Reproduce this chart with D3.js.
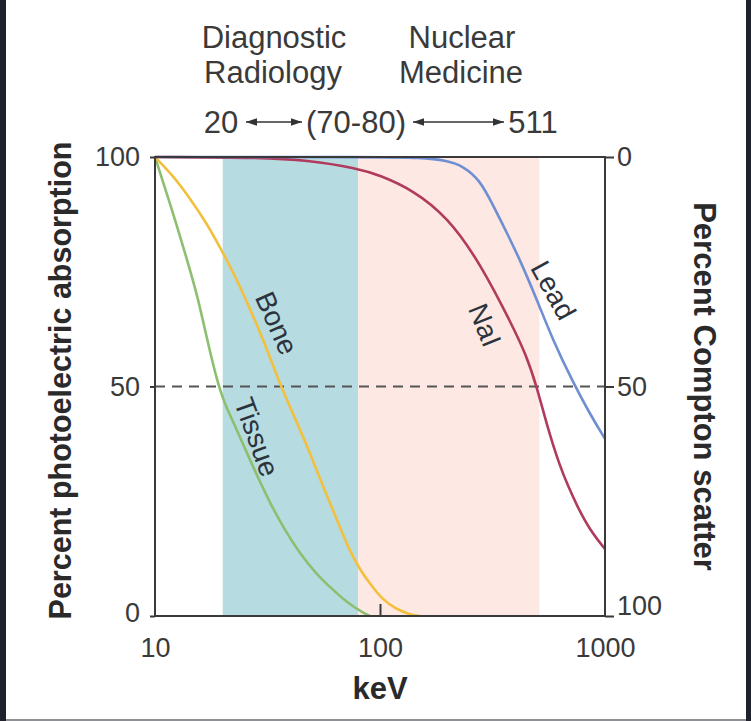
<!DOCTYPE html>
<html>
<head>
<meta charset="utf-8">
<script src="https://cdn.jsdelivr.net/npm/d3@7"></script>
<style>
  html, body { margin: 0; padding: 0; background: #1f222b; }
  svg { display: block; font-family: "Liberation Sans", Arial, sans-serif; }
</style>
</head>
<body>
<div id="chart"></div>
<script>
// Energy (keV) and percent photoelectric absorption
const tissueKeV = [10, 12, 14, 15.4, 17, 18.9, 20.5, 22.2, 26.4, 32.4, 38, 44, 52, 61.8, 72, 84, 90];
const tissuePct = [100, 88, 77, 70, 60.5, 51, 46, 42.5, 34, 24.6, 18.5, 13.7, 9.2, 5.7, 2.8, 0.7, 0];

const boneKeV = [10, 12, 14.3, 17, 19.4, 22.5, 26.4, 31, 35.9, 42, 48.9, 56, 64.4, 72, 81.5, 92, 103, 118, 136, 150];
const bonePct = [100, 96, 91, 85.5, 80.4, 74.5, 67, 59, 50.5, 43, 35.5, 28, 21, 15, 10, 6.5, 3.5, 1.5, 0.3, 0];

const naiKeV = [10, 30, 47, 79, 100, 140, 199, 278, 390, 445, 499, 552, 631, 690, 751, 857, 1000];
const naiPct = [100, 99.9, 99.3, 97.6, 96, 92.8, 87, 77, 63, 57, 49.8, 41.5, 32.5, 28, 24, 18.7, 14.6];

const leadKeV = [10, 100, 150, 200, 234, 278, 318, 367, 419, 499, 588, 713, 857, 1000];
const leadPct = [100, 100, 99.9, 99.2, 98, 95, 89.5, 83.4, 77.6, 68.8, 60, 51.4, 44, 38.6];

// Energy bands: diagnostic radiology and nuclear medicine
const bandStart = [20, 80];
const bandEnd = [80, 511];

const xTicks = [10, 100, 1000];
const yTicks = [0, 50, 100];

const width = 751, height = 721;
const margin = {top: 157, right: 146, bottom: 105, left: 155};
const innerW = width - margin.left - margin.right;
const innerH = height - margin.top - margin.bottom;

const svg = d3.select('#chart').append('svg')
    .attr('width', width)
    .attr('height', height);

// dark frame and white card
svg.append('rect').attr('width', width).attr('height', height).attr('fill', '#1f222b');
svg.append('rect').attr('x', 6).attr('y', 0).attr('width', 740).attr('height', 719).attr('fill', '#ffffff');
svg.append('rect').attr('x', 6).attr('y', 719).attr('width', 740).attr('height', 2).attr('fill', '#8e9096');

const g = svg.append('g')
    .attr('transform', `translate(${margin.left},${margin.top})`);

const x = d3.scaleLog().domain([10, 1000]).range([0, innerW]);
const y = d3.scaleLinear().domain([0, 100]).range([innerH, 0]);
const yRight = d3.scaleLinear().domain([100, 0]).range([innerH, 0]);

// shaded bands
const bandColors = ['#b6dbe0', '#fde8e3'];
g.selectAll('.band')
  .data(bandStart.map((s, i) => ({s: s, e: bandEnd[i], c: bandColors[i]})))
  .enter().append('rect')
    .attr('class', 'band')
    .attr('x', d => x(d.s))
    .attr('y', 0)
    .attr('width', d => x(d.e) - x(d.s))
    .attr('height', innerH)
    .attr('fill', d => d.c);

// 50% reference line
g.append('line')
    .attr('x1', 0).attr('x2', innerW)
    .attr('y1', y(50)).attr('y2', y(50))
    .attr('stroke', '#555')
    .attr('stroke-width', 1.8)
    .attr('stroke-dasharray', '10,7');

// curves
const series = [
  {name: 'Tissue', keV: tissueKeV, pct: tissuePct, color: '#8dbf70', lab: [28.4, 39], rot: 70},
  {name: 'Bone', keV: boneKeV, pct: bonePct, color: '#f3c03e', lab: [34.8, 63.8], rot: 66},
  {name: 'NaI', keV: naiKeV, pct: naiPct, color: '#b13b5c', lab: [293, 63.4], rot: 68},
  {name: 'Lead', keV: leadKeV, pct: leadPct, color: '#6f8fd2', lab: [590, 71], rot: 61}
];

const line = d3.line()
    .x(d => x(d[0]))
    .y(d => y(d[1]))
    .curve(d3.curveBasis);

g.selectAll('.curve')
  .data(series)
  .enter().append('path')
    .attr('class', 'curve')
    .attr('d', d => line(d.keV.map((k, i) => [k, d.pct[i]])))
    .attr('fill', 'none')
    .attr('stroke', d => d.color)
    .attr('stroke-width', 2.6);

// curve labels, rotated along the curves
g.selectAll('.curve-label')
  .data(series)
  .enter().append('text')
    .attr('class', 'curve-label')
    .attr('transform', d => `translate(${x(d.lab[0])},${y(d.lab[1])}) rotate(${d.rot})`)
    .attr('text-anchor', 'middle')
    .attr('dy', '0.35em')
    .attr('font-size', 28)
    .attr('fill', '#2c333d')
    .text(d => d.name);

// frame
g.append('rect')
    .attr('width', innerW).attr('height', innerH)
    .attr('fill', 'none')
    .attr('stroke', '#3a3a3a')
    .attr('stroke-width', 2);

// axes
const axisColor = '#3a3a3a';
const xAxis = g.append('g')
    .attr('transform', `translate(0,${innerH})`)
    .call(d3.axisBottom(x).tickValues(xTicks).tickFormat(d3.format('d')).tickSize(-12).tickPadding(22));
const yAxis = g.append('g')
    .call(d3.axisLeft(y).tickValues(yTicks).tickSize(5).tickPadding(10));
const yAxisR = g.append('g')
    .attr('transform', `translate(${innerW},0)`)
    .call(d3.axisRight(yRight).tickValues(yTicks).tickSize(9).tickPadding(3));

[xAxis, yAxis, yAxisR].forEach(a => {
  a.select('.domain').remove();
  a.selectAll('line').attr('stroke', axisColor).attr('stroke-width', 2);
  a.selectAll('text')
      .attr('font-family', '"Liberation Sans", Arial, sans-serif')
      .attr('font-size', 27)
      .attr('fill', '#3a3a3a');
});
// end ticks of bottom axis sit on the frame corners
xAxis.selectAll('.tick line').filter(d => d !== 100).remove();
yAxisR.selectAll('.tick').filter(d => d === 100).select('text').attr('dy', '-0.05em');
yAxis.selectAll('.tick').filter(d => d === 0).select('text').attr('dy', '0.2em');

// axis titles
svg.append('text')
    .attr('transform', `translate(71,${margin.top + innerH / 2 - 6}) rotate(-90)`)
    .attr('text-anchor', 'middle')
    .attr('font-size', 30.5)
    .attr('font-weight', 'bold')
    .attr('fill', '#2a2a2a')
    .text('Percent photoelectric absorption');

svg.append('text')
    .attr('transform', `translate(694,${margin.top + innerH / 2}) rotate(90)`)
    .attr('text-anchor', 'middle')
    .attr('font-size', 31)
    .attr('font-weight', 'bold')
    .attr('fill', '#2a2a2a')
    .text('Percent Compton scatter');

svg.append('text')
    .attr('x', margin.left + x(100))
    .attr('y', 699)
    .attr('text-anchor', 'middle')
    .attr('font-size', 31)
    .attr('font-weight', 'bold')
    .attr('fill', '#2a2a2a')
    .text('keV');

// header annotations
const header = svg.append('g')
    .attr('font-size', 31)
    .attr('fill', '#3a3a3a')
    .attr('text-anchor', 'middle');
header.append('text').attr('x', 274).attr('y', 48).text('Diagnostic');
header.append('text').attr('x', 273).attr('y', 83).text('Radiology');
header.append('text').attr('x', 462).attr('y', 48).text('Nuclear');
header.append('text').attr('x', 461).attr('y', 83).text('Medicine');

// energy range row with double-headed arrows
svg.append('defs').append('marker')
    .attr('id', 'arrowhead')
    .attr('viewBox', '0 0 10 10')
    .attr('refX', 10).attr('refY', 5)
    .attr('markerWidth', 7).attr('markerHeight', 7)
    .attr('orient', 'auto-start-reverse')
  .append('path')
    .attr('d', 'M0,1.5 L10,5 L0,8.5 Z')
    .attr('fill', '#333');

const rowY = 133;
header.append('text').attr('x', 221).attr('y', rowY).text('20');
header.append('text').attr('x', 356).attr('y', rowY).text('(70-80)');
header.append('text').attr('x', 533).attr('y', rowY).text('511');

const arrows = [[246, 302], [413, 504]];
svg.selectAll('.arrow')
  .data(arrows)
  .enter().append('line')
    .attr('class', 'arrow')
    .attr('x1', d => d[0]).attr('x2', d => d[1])
    .attr('y1', rowY - 11).attr('y2', rowY - 11)
    .attr('stroke', '#333')
    .attr('stroke-width', 1.6)
    .attr('marker-start', 'url(#arrowhead)')
    .attr('marker-end', 'url(#arrowhead)');
</script>
</body>
</html>
